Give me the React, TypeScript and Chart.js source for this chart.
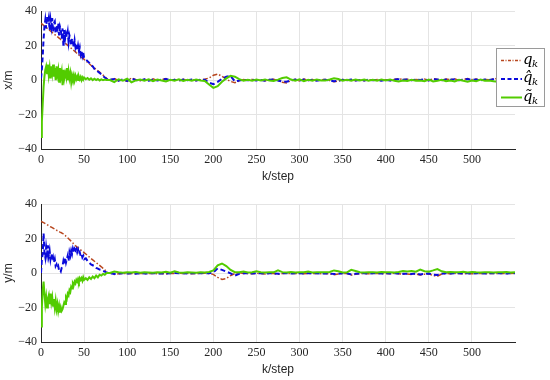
import { useEffect, useRef } from "react";
import { Chart, registerables } from "chart.js";
Chart.register(...registerables);

// step index (k) for the early, densely sampled part and the late part
const stepsEarly = [
  0, 1, 2, 3, 4, 5, 6, 7, 8, 9,
  10, 11, 12, 13, 14, 15, 16, 17, 18, 19,
  20, 21, 22, 23, 24, 25, 26, 27, 28, 29,
  30, 31, 32, 33, 34, 35, 36, 37, 38, 39,
  40, 41, 42, 43, 44, 45, 46, 47, 48, 49,
  50, 52, 54, 56, 58, 60, 62, 64, 66, 68,
  70, 72, 74, 76, 78,
];
const stepsLate = [
  80, 85, 90, 95, 100, 105, 110, 115, 120, 125,
  130, 135, 140, 145, 150, 155, 160, 165, 170, 175,
  180, 185, 190, 195, 200, 205, 210, 215, 220, 225,
  230, 235, 240, 245, 250, 255, 260, 265, 270, 275,
  280, 285, 290, 295, 300, 305, 310, 315, 320, 325,
  330, 335, 340, 345, 350, 355, 360, 365, 370, 375,
  380, 385, 390, 395, 400, 405, 410, 415, 420, 425,
  430, 435, 440, 445, 450, 455, 460, 465, 470, 475,
  480, 485, 490, 495, 500, 505, 510, 515, 520, 525,
  530, 535, 540, 545, 550,
];

const xTicks = [0, 50, 100, 150, 200, 250, 300, 350, 400, 450, 500];
const yTicks = [-40, -20, 0, 20, 40];
const seriesNames = ["q", "q̂", "q̃"];

// ---------- x/m (top) ----------
const xTrueEarly = [
  33, 32.6, 32.2, 31.8, 31.4, 31, 30.5, 30.1, 29.7, 29.3,
  28.9, 28.5, 28.1, 27.7, 27.2, 26.8, 26.4, 26, 25.6, 25.2,
  24.8, 24.4, 24, 23.5, 23.1, 22.7, 22.3, 21.9, 21.5, 21,
  20.6, 20.2, 19.8, 19.4, 18.9, 18.5, 18.1, 17.6, 17.2, 16.8,
  16.4, 15.9, 15.5, 15.1, 14.6, 14.2, 13.8, 13.3, 12.9, 12.5,
  12, 11.2, 10.3, 9.5, 8.6, 7.8, 7, 6.2, 5.4, 4.6,
  3.8, 2.9, 2, 1.1, 0.2,
];
const xTrueLate = [
  0, 1, -0.5, 0.3, -0.8, 1.3, 0.2, -0.3, 0.4, -0.5,
  0.7, -0.3, 0.2, 0.9, -0.2, 0.3, -0.4, 0.5, -0.2, 0.4,
  -0.3, 0.2, 0.5, 1.2, 2.8, 3.5, 2.2, 0.5, -0.8, -1.5,
  -0.6, 0.3, -0.2, 0.4, -0.3, 0.2, -0.4, 0.3, 0.5, -0.3,
  -1.2, -1.6, -0.3, 0.4, -0.5, 0.6, -0.2, 0.3, -0.4, 0.2,
  0.3, -0.3, -1, -0.6, 0.3, -0.2, 0.4, -0.3, 0.2, -0.3,
  0.4, -0.2, 0.3, -0.4, 0.2, -0.3, 0.4, 0.8, 0.3, 0.5,
  -0.2, 0.4, 0.2, 0.6, -0.3, 0.8, 0.4, -0.2, 0.6, 0.3,
  0.8, -0.2, 0.4, 0.9, 0.2, 0.6, -0.3, 0.4, 0.2, 0.7,
  1, 0.3, -0.2, 0.3, 0,
];
const xEstEarly = [
  1, 6, 14, 24, 31, 35, 30, 37, 33, 36,
  29, 35, 31, 36, 28, 33, 34, 27, 32, 30,
  33, 26, 31, 29, 24, 30, 20, 29, 24, 27,
  25, 28, 22, 26, 24, 20, 24, 22, 19, 23,
  19, 21, 17, 20, 17, 19, 15, 17, 14, 16,
  13, 12, 11, 10, 8.5, 8, 6.5, 6, 5, 4.2,
  3.2, 2.4, 1.5, 0.8, 0,
];
const xEstLate = [
  0.2, 0.6, -0.3, 0.4, -0.5, 0.8, 0.1, -0.2, 0.5, -0.3,
  0.4, -0.2, 0.3, 0.6, -0.1, 0.2, -0.3, 0.4, -0.1, 0.3,
  -0.2, 0.3, 0.2, -1.5, -2.4, -1, 0.8, 2, 2.4, -0.8,
  -0.3, 0.2, -0.1, 0.3, -0.2, 0.1, -0.3, 0.2, 0.4, -0.2,
  -0.8, -1, -0.2, 0.3, -0.3, 0.4, -0.1, 0.2, -0.3, 0.1,
  0.2, -0.2, -0.6, -0.4, 0.2, -0.1, 0.3, -0.2, 0.1, -0.2,
  0.3, -0.1, 0.2, -0.3, 0.1, -0.2, 0.3, 0.5, 0.2, 0.3,
  -0.1, 0.3, 0.1, 0.4, -0.2, 0.5, 0.3, -0.1, 0.4, 0.2,
  0.5, -0.1, 0.3, 0.6, 0.1, 0.4, -0.2, 0.3, 0.1, 0.5,
  0.6, 0.2, -0.1, 0.2, 0,
];
const xErrEarly = [
  -33, -24, -14, -4, 2, 6, 8, 4, 9, 3,
  7, 1, 8, 4, 9, 2, 7, 0, 8, 3,
  6, -1, 7, 2, 5, -3, 6, 1, 4, 2,
  7, 0, 5, 1, 4, -1, 3, 1, 3, 0,
  2.5, 0.5, 2, 0, 2, 0.5, 1.8, 0, 1.5, 0.3,
  1.5, 0.5, 1.2, 0.2, 1, 0, 0.8, 0, 0.6, -0.2,
  0.4, 0, 0.3, 0.1, 0,
];
const xErrLate = [
  0, -1.2, 0.5, -0.3, 0.8, -1.3, -0.2, 0.3, -0.4, 0.5,
  -0.6, 0.3, -0.2, -0.8, 0.2, -0.3, 0.4, -0.5, 0.2, -0.4,
  0.3, -0.2, -0.5, -2.5, -4.5, -3.5, -1, 1, 2.5, 2,
  0.6, -0.3, 0.2, -0.4, 0.3, -0.2, 0.4, -0.3, -0.5, 0.3,
  1.2, 1.6, 0.3, -0.4, 0.5, -0.6, 0.2, -0.3, 0.4, -0.2,
  -0.3, 0.3, 1, 0.6, -0.3, 0.2, -0.4, 0.3, -0.2, 0.3,
  -0.4, 0.2, -0.3, 0.4, -0.2, 0.3, -0.4, -0.8, -0.3, -0.5,
  0.2, -0.4, -0.2, -0.6, 0.3, -0.8, -0.4, 0.2, -0.6, -0.3,
  -0.8, 0.2, -0.4, -0.9, -0.2, -0.6, 0.3, -0.4, -0.2, -0.7,
  -1, -0.3, 0.2, -0.3, 0,
];

// ---------- y/m (bottom) ----------
const yTrueEarly = [
  30, 29.7, 29.4, 29.2, 28.9, 28.6, 28.3, 28, 27.7, 27.4,
  27.1, 26.8, 26.6, 26.3, 26, 25.7, 25.4, 25.1, 24.8, 24.5,
  24.3, 24, 23.7, 23.5, 23.2, 23, 22.6, 22.2, 21.8, 21.3,
  20.9, 20.4, 19.9, 19.4, 18.9, 18.4, 17.9, 17.4, 16.9, 16.3,
  15.8, 15.4, 15, 14.6, 14.2, 13.8, 13.4, 13, 12.6, 12.2,
  11.8, 11, 10.1, 9.3, 8.4, 7.6, 6.8, 6, 5.2, 4.4,
  3.6, 2.7, 1.8, 0.9, 0,
];
const yTrueLate = [
  0, -0.8, -0.5, -0.2, -0.4, -0.3, -0.5, -0.2, -0.4, -0.3,
  -0.2, -0.4, -0.3, -0.6, -0.2, -0.3, -0.1, -0.3, -0.2, -0.4,
  -0.2, -0.3, -0.1, -0.3, -0.8, -2.5, -3.7, -3.2, -1.5, -0.3,
  0.2, -0.3, -0.2, -0.4, -0.2, -0.3, -0.6, -0.2, -0.3, -0.8,
  -0.3, -0.2, -0.4, -0.2, -0.3, -0.5, -0.2, -0.3, -0.2, -0.4,
  -0.3, -0.5, -1, -0.6, -0.2, -0.3, -1.2, -0.8, -0.3, -0.2,
  -0.4, -0.3, -0.2, -0.4, -0.3, -0.5, -0.2, -0.4, -0.8, -0.6,
  -0.9, -0.5, -1.2, -0.7, -0.5, -1.5, -1.8, -0.6, -0.3, -0.4,
  -0.2, -0.3, -0.5, -0.2, -0.4, -0.3, -0.2, -0.4, -0.3, -0.2,
  -0.3, -0.2, -0.4, -0.3, -0.2,
];
const yEstEarly = [
  0, 8, 11, 23, 12, 9, 15, 11, 16, 10,
  13, 8, 11, 7, 9, 6, 8, 4, 5, 3,
  4, 1.5, 2, 1, 3, 4, 7, 5, 9, 6,
  8, 10, 7, 12, 10, 13, 11, 14, 12, 14,
  13, 14, 12, 13.5, 11, 12, 10, 11, 9, 10,
  8, 8.5, 7, 6, 5, 4.5, 4, 3, 2.5, 2,
  1.8, 1.2, 0.8, 0.3, 0,
];
const yEstLate = [
  0, -0.6, -0.3, -0.1, -0.3, -0.2, -0.4, -0.1, -0.3, -0.2,
  -0.1, -0.3, -0.2, -0.4, -0.1, 0, -0.2, -0.1, -0.3, -0.2,
  -0.1, -0.2, 0, -0.2, 0.3, 2.7, 1.8, 0.8, -0.2, -1.5,
  -0.5, -0.2, -0.1, -0.3, -0.1, -0.2, -0.4, -0.1, -0.2, -0.5,
  -0.2, -0.1, -0.3, -0.1, -0.2, -0.3, -0.1, -0.2, -0.1, -0.3,
  -0.2, -0.3, -0.6, -0.4, -0.1, -0.2, -0.8, -0.5, -0.2, -0.1,
  -0.3, -0.2, -0.1, -0.3, -0.2, -0.3, -0.1, -0.3, -0.5, -0.4,
  -0.6, -0.3, -0.8, -0.4, -0.3, -1, -1.2, -0.4, -0.2, -0.3,
  -0.1, -0.2, -0.3, -0.1, -0.3, -0.2, -0.1, -0.3, -0.2, -0.1,
  -0.2, -0.1, -0.3, -0.2, -0.1,
];
const yErrEarly = [
  -31, -20, -10, -5, -12, -18, -14, -20, -15, -13,
  -18, -12, -17, -14, -19, -15, -20, -16, -21, -18,
  -22, -19, -23, -20, -22, -21, -19, -17, -18, -14,
  -15, -12, -13, -10, -11, -8, -9, -6, -7, -5,
  -6, -4, -5, -3.5, -5, -3, -4, -3, -4.5, -2.5,
  -4, -3, -4, -2.5, -3.5, -2, -3, -1.5, -2.5, -1,
  -1.5, -0.5, -1, 0, 0,
];
const yErrLate = [
  0, 0.8, 0.4, 0.2, 0.5, 0.3, 0.6, 0.2, 0.4, 0.3,
  0.2, 0.5, 0.3, 0.7, 0.2, 1, 0.3, 0.2, 0.4, 0.3,
  0.2, 0.4, 0.3, 0.6, 1.5, 4.5, 5.5, 4, 1.8, 0.5,
  0.4, 0.8, 0.3, 0.5, 1, 0.4, 0.3, 0.5, 0.4, 1.5,
  0.5, 0.3, 0.6, 0.3, 0.4, 0.5, 0.8, 0.3, 0.4, 0.5,
  0.4, 0.6, 1.5, 1, 0.3, 0.4, 1.8, 1.2, 0.4, 0.3,
  0.5, 0.4, 0.3, 0.6, 0.4, 0.5, 0.3, 0.6, 1.2, 0.9,
  1.2, 0.8, 2, 1, 0.8, 1.5, 2.3, 1, 0.5, 0.6,
  0.4, 0.5, 0.7, 0.3, 0.6, 0.4, 0.3, 0.5, 0.4, 0.3,
  0.5, 0.4, 0.6, 0.3, 0.4,
];

const RED = "#B8471F";
const BLUE = "#0A0ADC";
const GREEN = "#52CC00";
const AXIS = "#262626";
const GRID = "#e4e4e4";

function pts(early: number[], late: number[]) {
  const out: { x: number; y: number }[] = [];
  stepsEarly.forEach((k, i) => out.push({ x: k, y: early[i] }));
  stepsLate.forEach((k, i) => out.push({ x: k, y: late[i] }));
  return out;
}

const legendPlugin = {
  id: "mlegend",
  afterDraw(chart: any) {
    const ctx = chart.ctx;
    const bx = 496, by = 48, bw = 49, bh = 59;
    ctx.save();
    ctx.fillStyle = "#ffffff";
    ctx.fillRect(bx, by, bw, bh);
    ctx.strokeStyle = "#9a9a9a";
    ctx.lineWidth = 1;
    ctx.strokeRect(bx + 0.5, by + 0.5, bw - 1, bh - 1);
    const rows = [
      { y: 60.5, color: RED, dash: [3, 1.5, 1, 1.5], w: 1.5 },
      { y: 79, color: BLUE, dash: [4, 2.5], w: 2 },
      { y: 97.5, color: GREEN, dash: [], w: 2 },
    ];
    rows.forEach((r, i) => {
      ctx.beginPath();
      ctx.setLineDash(r.dash);
      ctx.strokeStyle = r.color;
      ctx.lineWidth = r.w;
      ctx.moveTo(501, r.y);
      ctx.lineTo(522, r.y);
      ctx.stroke();
      ctx.setLineDash([]);
      ctx.fillStyle = "#000";
      ctx.textBaseline = "alphabetic";
      ctx.textAlign = "left";
      ctx.font = "italic 15px 'DejaVu Serif'";
      ctx.fillText(seriesNames[i], 523, r.y + 3);
      ctx.font = "italic 10px 'DejaVu Serif'";
      ctx.fillText("k", 532, r.y + 6);
    });
    ctx.restore();
  },
};

function makeConfig(
  yTitle: string,
  data: { t: any[]; e: any[]; r: any[] },
  top: number,
  xHeight: number,
  titleBottom: number,
  withLegend: boolean
): any {
  return {
    type: "line",
    data: {
      datasets: [
        {
          label: "q_k", data: data.t, borderColor: RED, borderWidth: 1.5,
          borderDash: [5, 2, 1.5, 2], pointRadius: 0, fill: false, order: 3, tension: 0,
        },
        {
          label: "q̂_k", data: data.e, borderColor: BLUE, borderWidth: 2,
          borderDash: [5, 3], pointRadius: 0, fill: false, order: 2, tension: 0,
        },
        {
          label: "q̃_k", data: data.r, borderColor: GREEN, borderWidth: 2,
          pointRadius: 0, fill: false, order: 1, tension: 0,
        },
      ],
    },
    options: {
      responsive: false,
      animation: false,
      layout: { padding: { top, right: 35, bottom: 0, left: 0 } },
      plugins: { legend: { display: false }, tooltip: { enabled: false } },
      scales: {
        x: {
          type: "linear",
          min: 0,
          max: 550,
          afterBuildTicks: (s: any) => { s.ticks = xTicks.map((v) => ({ value: v })); },
          afterFit: (s: any) => { s.height = xHeight; },
          grid: { color: GRID, drawTicks: false },
          border: { color: AXIS, width: 1 },
          ticks: {
            padding: 4, color: AXIS, maxRotation: 0,
            font: { family: "'Liberation Serif'", size: 12 },
          },
          title: {
            display: true, text: "k/step", color: AXIS,
            font: { family: "'Liberation Sans'", size: 12 },
            padding: { top: 0, bottom: titleBottom },
          },
        },
        y: {
          min: -40,
          max: 40,
          afterBuildTicks: (s: any) => { s.ticks = yTicks.map((v) => ({ value: v })); },
          afterFit: (s: any) => { s.width = 41; },
          grid: { color: GRID, drawTicks: false },
          border: { color: AXIS, width: 1 },
          ticks: {
            padding: 4, color: AXIS,
            font: { family: "'Liberation Serif'", size: 12 },
            callback: (v: number) => (v < 0 ? "−" + Math.abs(v) : String(v)),
          },
          title: {
            display: true, text: yTitle, color: AXIS,
            font: { family: "'Liberation Sans'", size: 12 },
            padding: { top: 1, bottom: 0 },
          },
        },
      },
    },
    plugins: withLegend ? [legendPlugin] : [],
  };
}

export default function App() {
  const topRef = useRef<HTMLCanvasElement>(null);
  const botRef = useRef<HTMLCanvasElement>(null);

  useEffect(() => {
    const c1 = new Chart(
      topRef.current!,
      makeConfig(
        "x/m",
        { t: pts(xTrueEarly, xTrueLate), e: pts(xEstEarly, xEstLate), r: pts(xErrEarly, xErrLate) },
        10, 41, 6, true
      )
    );
    const c2 = new Chart(
      botRef.current!,
      makeConfig(
        "y/m",
        { t: pts(yTrueEarly, yTrueLate), e: pts(yEstEarly, yEstLate), r: pts(yErrEarly, yErrLate) },
        14, 38, 3, false
      )
    );
    return () => {
      c1.destroy();
      c2.destroy();
    };
  }, []);

  return (
    <div style={{ position: "absolute", left: 0, top: 0, width: 550, height: 380, background: "#fff" }}>
      <canvas ref={topRef} width={550} height={190} style={{ display: "block" }} />
      <canvas ref={botRef} width={550} height={190} style={{ display: "block" }} />
    </div>
  );
}
